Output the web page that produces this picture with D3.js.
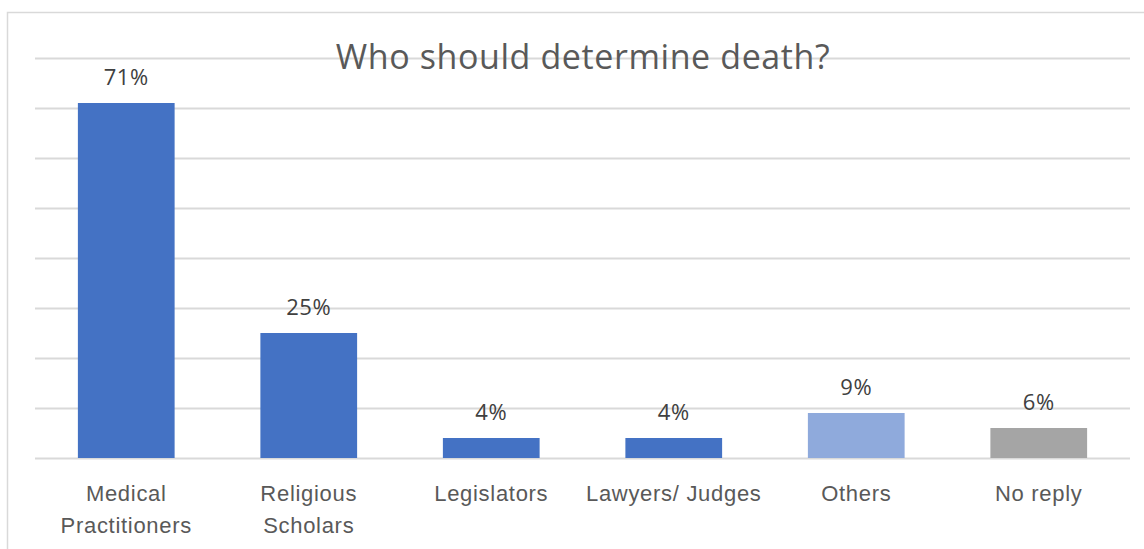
<!DOCTYPE html>
<html>
<head>
<meta charset="utf-8">
<script src="https://cdn.jsdelivr.net/npm/d3@7"></script>
<style>
  html, body { margin: 0; padding: 0; background: #fff; }
  svg { display: block; font-family: "Open Sans", "Noto Sans", sans-serif; }
</style>
</head>
<body>
<svg id="chart" width="1144" height="549"></svg>
<script>
// Survey responses: who should determine death
const categories = ["Medical Practitioners", "Religious Scholars", "Legislators", "Lawyers/ Judges", "Others", "No reply"];
const categoryLines = [["Medical", "Practitioners"], ["Religious", "Scholars"], ["Legislators"], ["Lawyers/ Judges"], ["Others"], ["No reply"]];
const values = [71, 25, 4, 4, 9, 6];
const barColors = ["#4472C4", "#4472C4", "#4472C4", "#4472C4", "#8FAADC", "#A5A5A5"];
const gridTicks = [0, 10, 20, 30, 40, 50, 60, 70, 80];
const title = "Who should determine death?";

const svg = d3.select("#chart");
const W = 1144, H = 549;
const plot = { left: 35, right: 1130, top: 58, bottom: 458 };

// Chart frame (open on the right and bottom, as cropped)
svg.append("rect")
  .attr("x", 7.5).attr("y", 12.5)
  .attr("width", W + 10).attr("height", H + 10)
  .attr("fill", "#fff").attr("stroke", "#D9D9D9").attr("stroke-width", 1.5);

const x = d3.scaleBand()
  .domain(categories)
  .range([plot.left, plot.right])
  .paddingInner(0.47)
  .paddingOuter(0.235);

const y = d3.scaleLinear()
  .domain([0, 80])
  .range([plot.bottom, plot.top]);

// Horizontal gridlines
svg.append("g")
  .attr("transform", `translate(${plot.left},0)`)
  .call(d3.axisLeft(y).tickValues(gridTicks).tickSize(-(plot.right - plot.left)).tickFormat(""))
  .call(g => g.select(".domain").remove())
  .call(g => g.selectAll(".tick line").attr("stroke", "#D9D9D9").attr("stroke-width", 2));

// Title
svg.append("text")
  .attr("x", 583)
  .attr("y", 69)
  .attr("text-anchor", "middle")
  .attr("font-size", 34)
  .attr("letter-spacing", 0.6)
  .attr("fill", "#595959")
  .text(title);

// Bars
svg.append("g").selectAll("rect")
  .data(values)
  .join("rect")
  .attr("x", (d, i) => x(categories[i]))
  .attr("y", d => y(d))
  .attr("width", x.bandwidth())
  .attr("height", d => y(0) - y(d))
  .attr("fill", (d, i) => barColors[i]);

// Value labels
svg.append("g").selectAll("text")
  .data(values)
  .join("text")
  .attr("x", (d, i) => x(categories[i]) + x.bandwidth() / 2)
  .attr("y", d => y(d) - 18)
  .attr("text-anchor", "middle")
  .attr("font-size", 22)
  .attr("letter-spacing", 0.6)
  .attr("fill", "#404040")
  .text(d => d + "%");

// Category axis labels
const xAxis = svg.append("g")
  .attr("transform", `translate(0,${plot.bottom})`)
  .call(d3.axisBottom(x).tickSize(0).tickFormat(""))
  .call(g => g.select(".domain").remove());

xAxis.selectAll(".tick").each(function(d, i) {
  const t = d3.select(this).append("text")
    .attr("text-anchor", "middle")
    .attr("font-size", 22)
    .attr("letter-spacing", 0.7)
    .attr("fill", "#595959");
  categoryLines[i].forEach((line, j) => {
    t.append("tspan").attr("x", 0).attr("y", 43 + j * 32).text(line);
  });
});
</script>
</body>
</html>
